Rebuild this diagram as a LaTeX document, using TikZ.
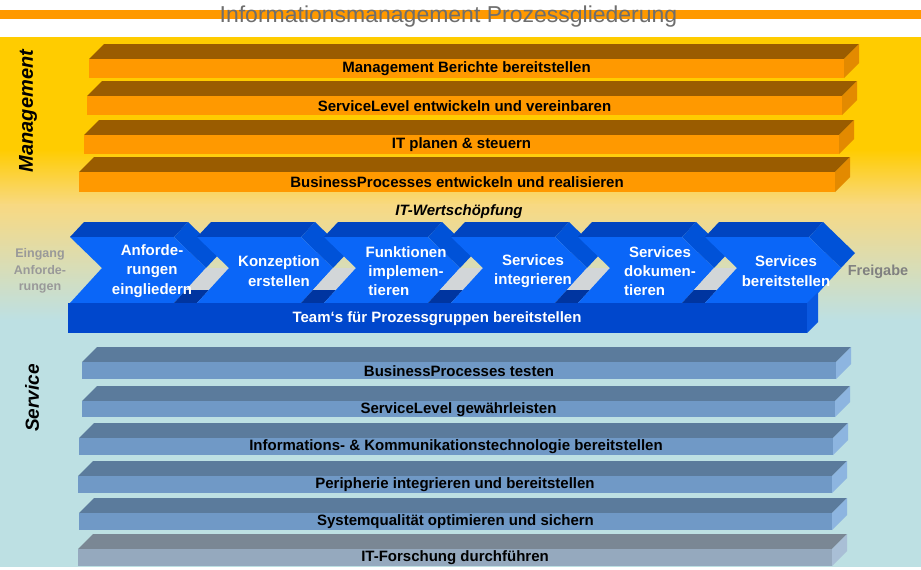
\documentclass[tikz,border=0pt]{standalone}
\usepackage{fontspec}
\setmainfont{Liberation Sans}
\definecolor{bgyellow}{HTML}{FFCC00}
\definecolor{bgpale}{HTML}{F8D982}
\definecolor{bgcyan}{HTML}{BDE0E3}
\definecolor{stripe}{HTML}{FF9900}
\definecolor{titlegray}{HTML}{6E6E6E}
\definecolor{sidegray}{HTML}{999999}
\definecolor{mgfrontc}{HTML}{FF9900}
\definecolor{mgtopc}{HTML}{9A5C00}
\definecolor{mgsidec}{HTML}{E38A00}
\definecolor{svfrontc}{HTML}{7099C6}
\definecolor{svtopc}{HTML}{5B7B9C}
\definecolor{svsidec}{HTML}{8DB5E0}
\definecolor{gyfrontc}{HTML}{95A9BE}
\definecolor{gytopc}{HTML}{7A8794}
\definecolor{gysidec}{HTML}{A9BFD6}
\definecolor{chfrontc}{HTML}{0A66F8}
\definecolor{chtopc}{HTML}{0044C0}
\definecolor{chmidc}{HTML}{0052D8}
\definecolor{chgrayc}{HTML}{D2D6D8}
\definecolor{chdarkc}{HTML}{0035A0}
\definecolor{tbfrontc}{HTML}{0047CC}
\definecolor{tbsidec}{HTML}{0A58E0}
\tikzset{
  mgtop/.style={fill=mgtopc}, mgside/.style={fill=mgsidec}, mgfront/.style={fill=mgfrontc},
  svtop/.style={fill=svtopc}, svside/.style={fill=svsidec}, svfront/.style={fill=svfrontc},
  gytop/.style={fill=gytopc}, gyside/.style={fill=gysidec}, gyfront/.style={fill=gyfrontc},
  chtop/.style={fill=chtopc}, chmid/.style={fill=chmidc}, chfront/.style={fill=chfrontc},
  chgray/.style={fill=chgrayc}, chdark/.style={fill=chdarkc},
  tbfront/.style={fill=tbfrontc}, tbside/.style={fill=tbsidec},
  bartext/.style={inner sep=0pt, font=\bfseries\fontsize{15}{17}\selectfont, text=black},
  chtext/.style={inner sep=0pt, align=center, text=white, font=\bfseries\fontsize{15}{19.3}\selectfont},
  sidelabel/.style={inner sep=0pt, align=center, text=sidegray, font=\bfseries},
  vlabel/.style={inner sep=0pt, rotate=90, font=\bfseries\itshape}
}
\newcommand{\drawbar}[7]{%
  \path[#2top] (#3,#5) -- (#3+15,#5-15) -- (#4+15,#5-15) -- (#4,#5) -- cycle;
  \path[#2side] (#4,#5) -- (#4+15,#5-15) -- (#4+15,#6-15) -- (#4,#6) -- cycle;
  \path[#2front] (#3,#5) rectangle (#4,#6);
  \node[bartext] (#1) at ({(#3+#4)/2},{(#5+#6)/2+0.5}) {#7};
}
\newcommand{\chev}[1]{%
  \pgfmathsetmacro\cL{#1}\pgfmathsetmacro\cR{#1+104}%
  \path[chtop] (\cL,237) -- (\cL+14,222) -- (\cR+14,222) -- (\cR,237) -- cycle;
  \path[chmid] (\cR,237) -- (\cR+14,222) -- (\cR+46,253) -- (\cR+32,268) -- cycle;
  \path[chfront] (\cL,237) -- (\cR,237) -- (\cR+32,268) -- (\cR,303) -- (\cL,303) -- (\cL+32,268) -- cycle;
}
\newcommand{\chgap}[1]{%
  \pgfmathsetmacro\gR{#1+104}%
  \begin{scope}
    \clip (\gR+32,268) -- (\gR+55,268) -- (\gR+23,303) -- (\gR,303) -- cycle;
    \path[chgray] (\gR-5,250) rectangle (\gR+60,290);
    \path[chdark] (\gR-5,290) rectangle (\gR+60,304);
  \end{scope}
}
\begin{document}
\begin{tikzpicture}[x=1pt,y=-1pt]
\useasboundingbox (0,0) rectangle (921,570);
% background
\fill[white] (0,0) rectangle (921,570);
\fill[bgyellow] (0,37) rectangle (921,150);
\shade[top color=bgyellow, bottom color=bgpale] (0,149.5) rectangle (921,205);
\shade[top color=bgpale, bottom color=bgcyan] (0,204.5) rectangle (921,320);
\fill[bgcyan] (0,319.5) rectangle (921,567);
% title stripe
\fill[stripe] (0,10) rectangle (921,19);
\node[inner sep=0pt, anchor=base, text=titlegray, font=\fontsize{23}{25}\selectfont] (title) at (448.5,22) {Informationsmanagement Prozessgliederung};
% side labels
\node[vlabel, font=\bfseries\itshape\fontsize{20}{22}\selectfont] (mgmt) at (28,111) {Management};
\node[vlabel, font=\bfseries\itshape\fontsize{19}{21}\selectfont] (serv) at (32,398) {Service};
% management bars
\drawbar{m1}{mg}{89}{844}{59}{78}{Management Berichte bereitstellen}
\drawbar{m2}{mg}{87}{842}{96}{115}{ServiceLevel entwickeln und vereinbaren}
\drawbar{m3}{mg}{84}{839}{135}{154}{IT planen \& steuern}
\drawbar{m4}{mg}{79}{835}{172}{192}{BusinessProcesses entwickeln und realisieren}
% value chain
\node[inner sep=0pt, font=\bfseries\itshape\fontsize{15}{17}\selectfont] (itw) at (459,212) {IT-Wertschöpfung};
\chev{70}\chgap{70}
\chev{197}\chgap{197}
\chev{324}\chgap{324}
\chev{451}\chgap{451}
\chev{578}\chgap{578}
\chev{705}
% team bar
\path[tbside] (807,303) -- (818,292) -- (818,322) -- (807,333) -- cycle;
\path[tbfront] (68,303) rectangle (807,333);
\node[inner sep=0pt, text=white, font=\bfseries\fontsize{15}{17}\selectfont] (team) at (437,319) {Team‘s für Prozessgruppen bereitstellen};
% chevron texts
\node[chtext] (c1) at (152,271) {Anforde-\\rungen\\eingliedern};
\node[chtext] (c2) at (279,271) {Konzeption\\erstellen};
\node[chtext] (c3) at (406,271) {Funktionen\\implemen-\\\makebox[0pt][l]{tieren}\hphantom{implemen-}};
\node[chtext] (c4) at (533,271) {Services\\integrieren};
\node[chtext] (c5) at (660,271) {Services\\dokumen-\\\makebox[0pt][l]{tieren}\hphantom{dokumen-}};
\node[chtext] (c6) at (786,271) {Services\\bereitstellen};
% in/out labels
\node[sidelabel, font=\bfseries\fontsize{12.5}{16.5}\selectfont] (in) at (40,271) {Eingang\\Anforde-\\rungen};
\node[sidelabel, font=\bfseries\fontsize{14.5}{16}\selectfont, text=gray] (out) at (878,272) {Freigabe};
% service bars
\drawbar{s1}{sv}{82}{836}{362}{379}{BusinessProcesses testen}
\drawbar{s2}{sv}{82}{835}{401}{417}{ServiceLevel gewährleisten}
\drawbar{s3}{sv}{79}{833}{438}{455}{Informations- \& Kommunikationstechnologie bereitstellen}
\drawbar{s4}{sv}{78}{832}{476}{493}{Peripherie integrieren und bereitstellen}
\drawbar{s5}{sv}{79}{832}{513}{530}{Systemqualität optimieren und sichern}
\drawbar{s6}{gy}{78}{832}{549}{566}{IT-Forschung durchführen}
\end{tikzpicture}
\end{document}
